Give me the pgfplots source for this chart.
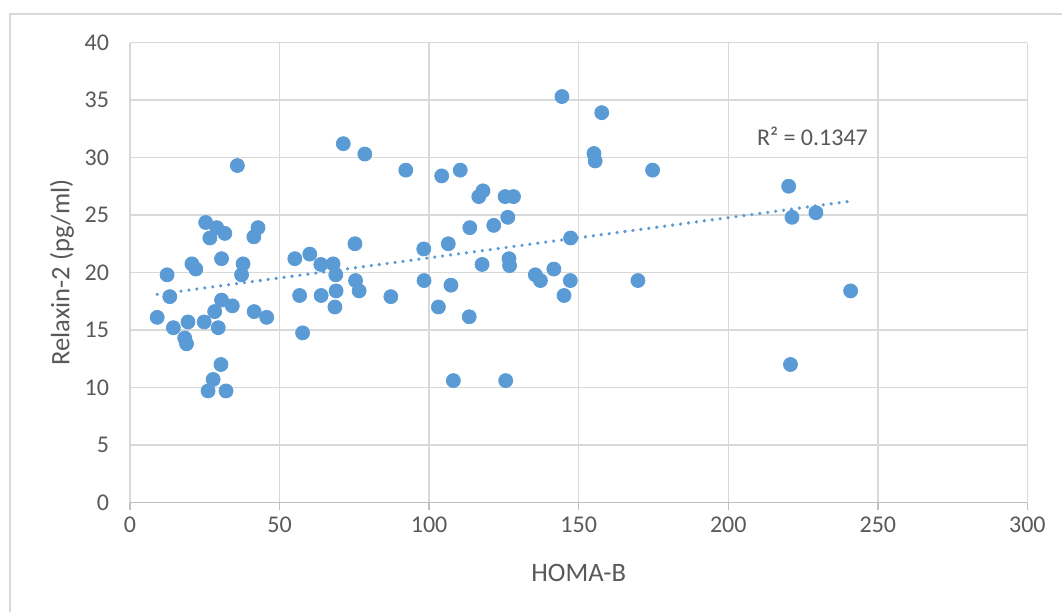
\documentclass[border=0pt]{standalone}
\usepackage{fontspec}
\setmainfont{Carlito}
\usepackage{pgfplots}
\pgfplotsset{compat=1.18}

\definecolor{pointblue}{HTML}{5B9BD5}
\definecolor{gridgray}{HTML}{D9D9D9}
\definecolor{axisgray}{HTML}{BFBFBF}
\definecolor{textgray}{HTML}{595959}

\begin{document}
\begin{tikzpicture}
\begin{axis}[
  at={(0,0)}, anchor=south west,
  scale only axis, width=448.7bp, height=230bp,
  xmin=0, xmax=300, ymin=0, ymax=40,
  xtick={0,50,...,300}, ytick={0,5,...,40},
  grid=major, major grid style={gridgray, line width=0.75bp},
  axis line style={draw=none},
  tick align=outside, xtick pos=left, major tick length=3.5bp,
  xtick style={axisgray, line width=0.75bp},
  ytick style={draw=none},
  ticklabel style={font=\fontsize{12bp}{14bp}\selectfont, text=textgray},
  /pgf/number format/assume math mode=true,
  yticklabel style={xshift=-3.5bp},
  xlabel={HOMA-B}, ylabel={Relaxin-2 (pg/ml)},
  label style={font=\fontsize{13.3bp}{16bp}\selectfont, text=textgray},
  xlabel style={at={(axis description cs:0.5,-0.1533)}, anchor=center},
  ylabel style={at={(axis description cs:-0.0758,0.5)}, anchor=center},
]
% x axis line
\draw[axisgray, line width=0.75bp] (axis cs:0,0) -- (axis cs:300,0);

\addplot[only marks, mark=*, mark size=3.5bp,
  mark options={draw=pointblue, fill=pointblue}] coordinates {
  (35.9,29.3) (25.3,24.35) (29.0,23.9) (31.7,23.4) (26.7,23.0)
  (42.8,23.9) (41.4,23.1) (20.7,20.75) (22.0,20.3) (30.6,21.2)
  (37.8,20.75) (37.3,19.8) (12.4,19.8) (13.3,17.9) (30.6,17.6)
  (34.2,17.1) (28.3,16.6) (9.1,16.1) (14.5,15.2) (19.4,15.7)
  (24.8,15.7) (29.5,15.2) (18.3,14.3) (18.9,13.8) (41.5,16.6)
  (45.7,16.1) (30.4,12.0) (27.8,10.7) (26.1,9.7) (32.1,9.7)
  (71.3,31.2) (78.5,30.3) (92.2,28.9) (104.2,28.4) (110.4,28.9)
  (55.1,21.2) (60.1,21.6) (63.8,20.7) (67.9,20.75) (68.8,19.8)
  (75.2,22.5) (75.4,19.3) (76.6,18.4) (68.9,18.4) (56.7,18.0)
  (63.9,18.0) (68.5,17.0) (87.2,17.9) (57.7,14.75) (98.2,22.05)
  (106.4,22.5) (113.6,23.9) (98.3,19.3) (107.3,18.9) (103.1,17.0)
  (113.4,16.15) (108.1,10.6)
  (144.4,35.3) (157.7,33.9) (155.1,30.35) (155.5,29.7) (174.7,28.9)
  (118.0,27.1) (116.6,26.6) (125.4,26.6) (128.2,26.6) (126.3,24.8)
  (121.6,24.1) (147.3,23.0) (117.7,20.7) (126.7,21.2) (126.9,20.6)
  (135.5,19.8) (137.2,19.3) (141.7,20.3) (147.2,19.3) (145.1,18.0)
  (169.8,19.3) (125.6,10.6)
  (220.2,27.5) (221.3,24.8) (229.3,25.2) (240.9,18.4) (220.8,12.0)
};

% linear trendline
\addplot[pointblue, line width=1.8bp, line cap=round,
  dash pattern=on 0bp off 4bp] coordinates {(9.1,18.1) (240.9,26.2)};

\node[anchor=west, inner sep=0pt, text=textgray,
  font=\fontsize{12bp}{14bp}\selectfont] at (axis cs:209.5,31.8) {R² = 0.1347};
\end{axis}

% chart area border
\draw[gridgray, line width=0.75bp] (-60bp,-54.75bp) -- (-60bp,244.25bp) -- (470bp,244.25bp);
\pgfresetboundingbox
\path (-65bp,-54.75bp) rectangle (466bp,251.25bp);
\end{tikzpicture}
\end{document}
